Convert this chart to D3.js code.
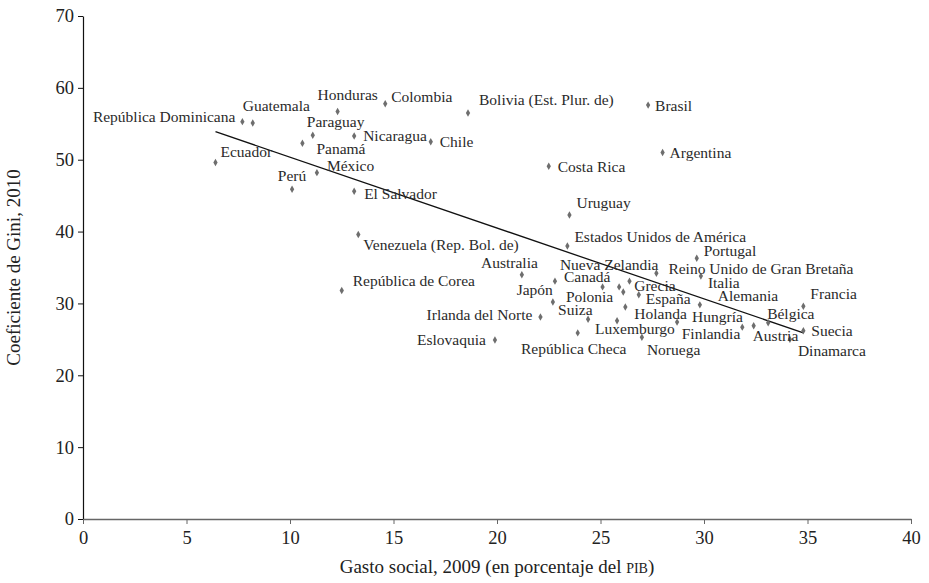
<!DOCTYPE html>
<html>
<head>
<meta charset="utf-8">
<script src="https://cdn.jsdelivr.net/npm/d3@7"></script>
<style>
  body { margin: 0; background: #fff; }
  text { font-family: "Liberation Serif", "Times New Roman", serif; }
</style>
</head>
<body>
<script>
// countries (Gasto social 2009, % del PIB / Gini 2010)
const countries = ["República Dominicana", "Guatemala", "Honduras", "Colombia", "Bolivia (Est. Plur. de)", "Brasil",
  "Paraguay", "Nicaragua", "Chile", "Panamá", "Ecuador", "Costa Rica", "Argentina", "México", "Perú",
  "El Salvador", "Uruguay", "Venezuela (Rep. Bol. de)", "República de Corea",
  "Estados Unidos de América", "Portugal", "Australia", "Reino Unido de Gran Bretaña", "Nueva Zelandia", "Italia",
  "Canadá", "Japón", "Suiza", "Polonia", "Grecia", "España", "Holanda", "", "Luxemburgo",
  "Irlanda del Norte", "República Checa", "Noruega", "Eslovaquia", "Alemania", "Hungría",
  "Finlandia", "Austria", "Bélgica", "Francia", "Suecia", "Dinamarca"];
const gasto = [7.7, 8.2, 12.3, 14.6, 18.6, 27.3,
  11.1, 13.1, 16.8, 10.6, 6.4, 22.5, 28.0, 11.3, 10.1,
  13.1, 23.5, 13.3, 12.5,
  23.4, 29.65, 21.2, 27.7, 26.4, 29.85,
  22.8, 22.7, 24.4, 25.1, 26.1, 26.85, 26.2, 25.9, 25.8,
  22.1, 23.9, 27.0, 19.9, 29.8, 28.7,
  31.85, 32.4, 33.1, 34.8, 34.8, 34.15];
const gini = [55.3, 55.1, 56.7, 57.8, 56.5, 57.6,
  53.4, 53.3, 52.5, 52.3, 49.6, 49.1, 51.0, 48.2, 45.9,
  45.6, 42.3, 39.6, 31.8,
  38.0, 36.3, 34.0, 34.2, 33.1, 33.8,
  33.1, 30.2, 27.8, 32.3, 31.6, 31.2, 29.5, 32.3, 27.6,
  28.1, 25.9, 25.3, 24.9, 29.8, 27.4,
  26.7, 26.9, 27.3, 29.6, 26.2, 25.0];
// linear trend
const trendX = [6.4, 34.8];
const trendY = [53.9, 25.9];
const xTicks = [0, 5, 10, 15, 20, 25, 30, 35, 40];
const yTicks = [0, 10, 20, 30, 40, 50, 60, 70];

// label placement [dx, dy, anchor] relative to the point
const labelPos = {
  "República Dominicana": [-7, -5, "end"],
  "Guatemala": [-10, -17, "start"],
  "Honduras": [-20, -17, "start"],
  "Colombia": [6, -7, "start"],
  "Bolivia (Est. Plur. de)": [11, -13, "start"],
  "Brasil": [7, 0, "start"],
  "Paraguay": [-6, -14, "start"],
  "Nicaragua": [9, 0, "start"],
  "Chile": [9, 0, "start"],
  "Panamá": [14, 5, "start"],
  "Ecuador": [5, -11, "start"],
  "Costa Rica": [9, 0, "start"],
  "Argentina": [7, 0, "start"],
  "México": [10, -7, "start"],
  "Perú": [0, -14, "middle"],
  "El Salvador": [10, 2, "start"],
  "Uruguay": [7, -12, "start"],
  "Venezuela (Rep. Bol. de)": [5, 10, "start"],
  "República de Corea": [11, -10, "start"],
  "Estados Unidos de América": [7, -9, "start"],
  "Portugal": [7, -8, "start"],
  "Australia": [16, -12, "end"],
  "Reino Unido de Gran Bretaña": [12, -5, "start"],
  "Nueva Zelandia": [29, -17, "end"],
  "Italia": [7, 6, "start"],
  "Canadá": [9, -5, "start"],
  "Japón": [0, -12, "end"],
  "Suiza": [-30, -10, "start"],
  "Polonia": [-13, 10, "middle"],
  "Grecia": [11, -6, "start"],
  "España": [7, 4, "start"],
  "Holanda": [9, 7, "start"],
  "Luxemburgo": [-22, 8, "start"],
  "Irlanda del Norte": [-8, -3, "end"],
  "República Checa": [-4, 16, "middle"],
  "Noruega": [5, 12, "start"],
  "Eslovaquia": [-9, -1, "end"],
  "Alemania": [18, -9, "start"],
  "Hungría": [15, -6, "start"],
  "Finlandia": [-2, 6, "end"],
  "Austria": [-1, 10, "start"],
  "Bélgica": [-1, -9, "start"],
  "Francia": [7, -13, "start"],
  "Suecia": [8, 0, "start"],
  "Dinamarca": [8, 11, "start"]
};

const width = 929, height = 583;
const margin = {top: 16, right: 18, bottom: 64, left: 83};

const svg = d3.select("body").append("svg")
  .attr("width", width)
  .attr("height", height);

const x = d3.scaleLinear().domain([0, 40]).range([margin.left, width - margin.right]);
const y = d3.scaleLinear().domain([0, 70]).range([height - margin.bottom, margin.top]);

// y axis
const yAxis = svg.append("g")
  .attr("transform", "translate(" + margin.left + ",0)")
  .call(d3.axisLeft(y).tickValues(yTicks).tickSize(5).tickSizeOuter(0).tickPadding(4));
yAxis.select(".domain").attr("stroke", "#111").attr("stroke-width", 1.2);
yAxis.selectAll(".tick line").attr("stroke", "#111");
yAxis.selectAll(".tick text")
  .attr("font-size", 18.5).attr("fill", "#222")
  .style("font-family", "'Liberation Serif', serif");

// x axis
const xAxis = svg.append("g")
  .attr("transform", "translate(0," + y(0) + ")")
  .call(d3.axisBottom(x).tickValues(xTicks).tickSize(5).tickSizeOuter(0).tickPadding(7));
xAxis.select(".domain").attr("stroke", "#666").attr("stroke-width", 1.4);
xAxis.selectAll(".tick line").attr("stroke", "#666");
xAxis.selectAll(".tick text")
  .attr("font-size", 18.5).attr("fill", "#222")
  .style("font-family", "'Liberation Serif', serif");

// trend line
svg.append("line")
  .attr("x1", x(trendX[0])).attr("y1", y(trendY[0]))
  .attr("x2", x(trendX[1])).attr("y2", y(trendY[1]))
  .attr("stroke", "#111")
  .attr("stroke-width", 1.3);

// points (small diamonds)
const diamond = d3.symbol().type(d3.symbolDiamond).size(16);
svg.append("g").selectAll("path")
  .data(countries)
  .enter().append("path")
  .attr("d", diamond)
  .attr("transform", (d, i) => "translate(" + x(gasto[i]) + "," + y(gini[i]) + ")")
  .attr("fill", "#6e6e6e");

// labels
svg.append("g").selectAll("text")
  .data(countries.filter(d => d !== ""))
  .enter().append("text")
  .attr("x", d => x(gasto[countries.indexOf(d)]) + labelPos[d][0])
  .attr("y", d => y(gini[countries.indexOf(d)]) + labelPos[d][1])
  .attr("dy", "0.35em")
  .attr("text-anchor", d => labelPos[d][2])
  .attr("font-size", 15.5)
  .attr("fill", "#2a2a2a")
  .text(d => d);

// axis titles
const xt = svg.append("text")
  .attr("x", (x(0) + x(40)) / 2)
  .attr("y", 573)
  .attr("text-anchor", "middle")
  .attr("font-size", 19)
  .attr("fill", "#222");
xt.append("tspan").text("Gasto social, 2009 (en porcentaje del ");
xt.append("tspan").attr("font-size", 14).text("PIB");
xt.append("tspan").text(")");

svg.append("text")
  .attr("transform", "translate(20," + y(35) + ") rotate(-90)")
  .attr("text-anchor", "middle")
  .attr("font-size", 19)
  .attr("fill", "#222")
  .text("Coeficiente de Gini, 2010");
</script>
</body>
</html>
